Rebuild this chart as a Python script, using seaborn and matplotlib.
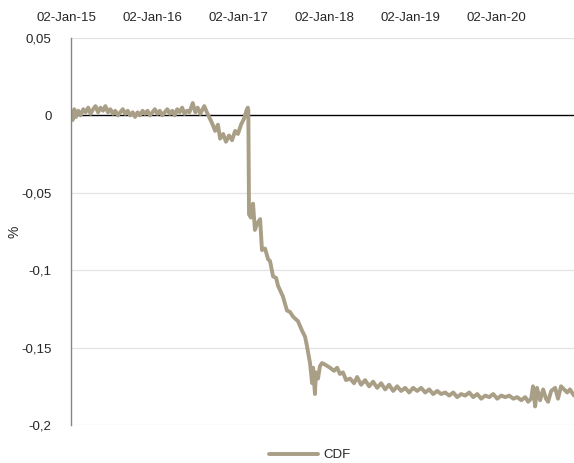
import numpy as np
import pandas as pd
import seaborn as sns
import matplotlib.pyplot as plt
import matplotlib.dates as mdates
from matplotlib.transforms import ScaledTranslation
from matplotlib.lines import Line2D

# readings
dates = [
    "2015-01-02", "2015-01-09", "2015-01-16", "2015-01-23", "2015-02-02", "2015-02-12",
    "2015-02-23", "2015-03-05", "2015-03-16", "2015-03-26", "2015-04-06", "2015-04-16",
    "2015-04-27", "2015-05-07", "2015-05-18", "2015-05-28", "2015-06-08", "2015-06-18",
    "2015-06-29", "2015-07-09", "2015-07-20", "2015-07-30", "2015-08-10", "2015-08-20",
    "2015-08-31", "2015-09-10", "2015-09-21", "2015-10-01", "2015-10-12", "2015-10-22",
    "2015-11-02", "2015-11-12", "2015-11-23", "2015-12-03", "2015-12-14", "2015-12-24",
    "2016-01-04", "2016-01-14", "2016-01-25", "2016-02-04", "2016-02-15", "2016-02-25",
    "2016-03-07", "2016-03-17", "2016-03-28", "2016-04-07", "2016-04-18", "2016-04-28",
    "2016-05-09", "2016-05-19", "2016-06-02", "2016-06-13", "2016-06-23", "2016-07-04",
    "2016-07-21", "2016-08-01", "2016-08-23", "2016-09-05", "2016-09-17", "2016-09-26",
    "2016-10-09", "2016-10-21", "2016-11-03", "2016-11-16", "2016-11-29", "2016-12-11",
    "2016-12-24", "2017-01-06", "2017-01-18", "2017-01-22", "2017-01-24", "2017-01-27",
    "2017-02-04", "2017-02-13", "2017-02-21", "2017-03-02", "2017-03-15", "2017-03-23",
    "2017-04-05", "2017-04-18", "2017-04-26", "2017-05-09", "2017-05-22", "2017-05-30",
    "2017-06-20", "2017-07-07", "2017-07-20", "2017-08-02", "2017-08-23", "2017-09-09",
    "2017-09-22", "2017-09-30", "2017-10-13", "2017-10-22", "2017-10-26", "2017-11-03",
    "2017-11-07", "2017-11-16", "2017-11-24", "2017-12-03", "2017-12-16", "2018-01-06",
    "2018-01-23", "2018-02-05", "2018-02-17", "2018-03-02", "2018-03-15", "2018-04-01",
    "2018-04-18", "2018-05-01", "2018-05-18", "2018-06-04", "2018-06-21", "2018-07-08",
    "2018-07-25", "2018-08-11", "2018-08-28", "2018-09-14", "2018-10-01", "2018-10-18",
    "2018-11-04", "2018-11-21", "2018-12-08", "2018-12-25", "2019-01-11", "2019-01-28",
    "2019-02-14", "2019-03-03", "2019-03-20", "2019-04-06", "2019-04-23", "2019-05-10",
    "2019-05-27", "2019-06-13", "2019-06-30", "2019-07-17", "2019-08-03", "2019-08-20",
    "2019-09-06", "2019-09-23", "2019-10-10", "2019-10-27", "2019-11-13", "2019-11-30",
    "2019-12-17", "2020-01-03", "2020-01-20", "2020-02-06", "2020-02-23", "2020-03-11",
    "2020-03-28", "2020-04-14", "2020-04-26", "2020-05-09", "2020-05-17", "2020-05-26",
    "2020-06-03", "2020-06-16", "2020-06-29", "2020-07-11", "2020-07-20", "2020-08-02",
    "2020-08-19", "2020-08-31", "2020-09-13", "2020-09-26", "2020-10-09", "2020-10-21",
    "2020-11-07",
]

cdf = [
    0.002, -0.003, 0.004, -0.001, 0.003, 0.000,
    0.004, 0.002, 0.005, 0.001, 0.004, 0.006,
    0.002, 0.005, 0.003, 0.006, 0.002, 0.004,
    0.001, 0.003, 0.000, 0.002, 0.004, 0.001,
    0.003, 0.000, 0.002, -0.001, 0.002, 0.000,
    0.003, 0.001, 0.003, 0.000, 0.002, 0.004,
    0.001, 0.003, 0.000, 0.002, 0.004, 0.001,
    0.003, 0.000, 0.004, 0.002, 0.005, 0.001,
    0.003, 0.002, 0.008, 0.002, 0.005, 0.001,
    0.006, 0.002, -0.005, -0.010, -0.006, -0.015,
    -0.012, -0.017, -0.013, -0.016, -0.010, -0.012,
    -0.006, -0.002, 0.004, 0.005, 0.003, -0.064,
    -0.066, -0.057, -0.074, -0.070, -0.067, -0.087,
    -0.086, -0.093, -0.094, -0.104, -0.105, -0.110,
    -0.117, -0.126, -0.127, -0.130, -0.133, -0.139,
    -0.143, -0.149, -0.160, -0.173, -0.163, -0.180,
    -0.166, -0.170, -0.162, -0.160, -0.161, -0.163,
    -0.165, -0.163, -0.167, -0.166, -0.171, -0.170,
    -0.173, -0.169, -0.174, -0.171, -0.175, -0.172,
    -0.176, -0.173, -0.177, -0.174, -0.178, -0.175,
    -0.178, -0.176, -0.179, -0.176, -0.178, -0.176,
    -0.179, -0.177, -0.180, -0.178, -0.180, -0.179,
    -0.181, -0.179, -0.182, -0.180, -0.181, -0.179,
    -0.182, -0.180, -0.183, -0.181, -0.182, -0.180,
    -0.183, -0.181, -0.182, -0.181, -0.183, -0.182,
    -0.184, -0.182, -0.185, -0.183, -0.175, -0.188,
    -0.176, -0.184, -0.177, -0.183, -0.185, -0.178,
    -0.176, -0.183, -0.175, -0.177, -0.179, -0.177,
    -0.181,
]

year_ticks = ["2015-01-02", "2016-01-02", "2017-01-02", "2018-01-02", "2019-01-02", "2020-01-02"]
y_ticks = [0.05, 0, -0.05, -0.1, -0.15, -0.2]

df = pd.DataFrame({"date": pd.to_datetime(dates), "value": cdf, "series": "CDF"})

sns.set_style("white")
plt.rcParams['font.family'] = ['Liberation Sans', 'DejaVu Sans']

fig = plt.figure(figsize=(5.74, 4.63), dpi=100)
ax = fig.add_axes([71/574, 38/463, 503/574, 387/463])

line_col = "#A99E86"
sns.lineplot(data=df, x="date", y="value", hue="series", palette=[line_col],
             linewidth=2.8, ax=ax, legend=False)

ax.set_xlim(pd.Timestamp("2015-01-02"), pd.Timestamp("2020-11-07"))
ax.set_ylim(-0.2, 0.05)

ax.set_yticks(y_ticks)
ax.set_yticklabels([("%g" % v).replace(".", ",") for v in y_ticks], fontsize=9.5)
for v in y_ticks:
    if v != 0:
        ax.axhline(v, color="#E3E3E3", lw=0.9, zorder=0)
ax.axhline(0, color="black", lw=1.0, zorder=1)

ax.xaxis.tick_top()
ax.set_xticks(pd.to_datetime(year_ticks))
ax.xaxis.set_major_formatter(mdates.DateFormatter("%d-%b-%y"))
ax.tick_params(axis="x", length=0, labelsize=9.5, pad=10)
ax.tick_params(axis="y", length=0, pad=14)
for lab in ax.get_xticklabels():
    lab.set_transform(lab.get_transform() + ScaledTranslation(-5/100, 0, fig.dpi_scale_trans))

for s in ["top", "right", "bottom"]:
    ax.spines[s].set_visible(False)
ax.spines["left"].set_color("#868686")
ax.spines["left"].set_linewidth(1.0)

ax.set_xlabel("")
ax.set_ylabel("%", fontsize=10, labelpad=0)

handle = Line2D([], [], color=line_col, lw=2.8)
fig.legend([handle], ["CDF"], loc="center", bbox_to_anchor=(0.54, 8/463),
           frameon=False, fontsize=9.5, handlelength=3.7, handletextpad=0.4)

fig.savefig("out.png", dpi=100)
